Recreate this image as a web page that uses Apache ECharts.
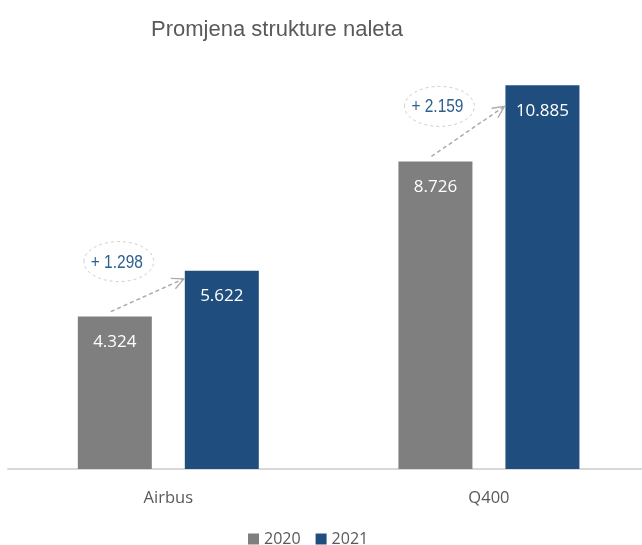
<!DOCTYPE html>
<html>
<head>
<meta charset="utf-8">
<script src="https://cdn.jsdelivr.net/npm/echarts@6/dist/echarts.min.js"></script>
<style>
  html, body { margin: 0; padding: 0; background: #fff; }
  #chart { width: 642px; height: 545px; }
</style>
</head>
<body>
<div id="chart"></div>
<script>
const categories = ['Airbus', 'Q400']
const values2020 = [4.324, 8.726]
const values2021 = [5.622, 10.885]
const diffLabels = ['+ 1.298', '+ 2.159']

const BAR_W = 74
const BAR_GAP = 33
const arrowDrop = [8, 21] // how far below the 2021 bar top the arrow ends

const fmt = v => v.toFixed(3)

const chart = echarts.init(document.getElementById('chart'))

function renderAnnot(params, api) {
  const i = api.value(0)
  const p20 = api.coord([i, api.value(1)])
  const p21 = api.coord([i, api.value(2)])
  const c20 = p20[0] - (BAR_W + BAR_GAP) / 2
  const left21 = p20[0] + BAR_GAP / 2
  const x1 = c20 - 4
  const y1 = p20[1] - 5
  const x2 = left21 - 1
  const y2 = p21[1] + arrowDrop[i]
  const ang = Math.atan2(y2 - y1, x2 - x1)
  const len = 13
  const a1 = ang + Math.PI - 0.45
  const a2 = ang + Math.PI + 0.45
  const cy = p20[1] - 55
  const cx = c20 + 4
  const dash = { stroke: '#ababab', lineWidth: 1.5, lineDash: [4, 3], fill: null }
  return {
    type: 'group',
    children: [
      { type: 'line', shape: { x1, y1, x2, y2 }, style: dash },
      {
        type: 'polyline',
        shape: { points: [
          [x2 + len * Math.cos(a1), y2 + len * Math.sin(a1)],
          [x2, y2],
          [x2 + len * Math.cos(a2), y2 + len * Math.sin(a2)]
        ] },
        style: { stroke: '#ababab', lineWidth: 1.3, fill: null }
      },
      {
        type: 'ellipse',
        shape: { cx, cy, rx: 35, ry: 20 },
        style: { stroke: '#cfcfcf', lineWidth: 1, lineDash: [3, 3], fill: '#fff' }
      },
      {
        type: 'text',
        x: cx - 2, y: cy + 1,
        scaleX: 0.86,
        style: {
          text: diffLabels[i],
          fill: '#2e5f8f',
          font: '18px "Liberation Sans", sans-serif',
          align: 'center',
          verticalAlign: 'middle'
        }
      }
    ]
  }
}

const barLabel = {
  show: true,
  position: 'insideTop',
  distance: 17,
  color: '#fff',
  fontSize: 17,
  fontFamily: '"Open Sans", sans-serif',
  formatter: p => fmt(p.value[1])
}

chart.setOption({
  animation: false,
  title: {
    text: 'Promjena strukture naleta',
    left: 146,
    top: 14,
    textStyle: {
      color: '#595959',
      fontSize: 22,
      fontWeight: 'normal',
      fontFamily: '"Liberation Sans", sans-serif'
    }
  },
  legend: {
    data: ['2020', '2021'],
    left: 243,
    top: 526,
    icon: 'rect',
    itemWidth: 11,
    itemHeight: 11,
    itemGap: 15,
    textStyle: { color: '#595959', fontSize: 16, fontFamily: '"Open Sans", sans-serif' }
  },
  grid: { left: 8, right: 0, top: 46, bottom: 76 },
  xAxis: {
    type: 'value',
    min: -0.5,
    max: 1.4774,
    splitLine: { show: false },
    axisLine: { show: true, onZero: false, lineStyle: { color: '#d9d9d9', width: 2 } },
    axisTick: { show: false },
    axisLabel: {
      customValues: [0, 1],
      formatter: v => categories[v] || '',
      color: '#595959',
      fontSize: 16.5,
      margin: 21,
      fontFamily: '"Open Sans", sans-serif'
    }
  },
  yAxis: {
    type: 'value',
    min: 0,
    max: 12,
    show: false,
    splitLine: { show: false }
  },
  series: [
    {
      name: '2020',
      type: 'bar',
      data: values2020.map((v, i) => [i, v]),
      barWidth: BAR_W,
      barGap: (BAR_GAP / BAR_W * 100) + '%',
      itemStyle: { color: '#7f7f7f' },
      label: barLabel
    },
    {
      name: '2021',
      type: 'bar',
      data: values2021.map((v, i) => [i, v]),
      barWidth: BAR_W,
      itemStyle: { color: '#1f4e7e' },
      label: barLabel
    },
    {
      type: 'custom',
      name: 'annot',
      renderItem: renderAnnot,
      clip: false,
      z: 5,
      silent: true,
      encode: { x: 0, y: 1 },
      data: categories.map((c, i) => [i, values2020[i], values2021[i]])
    }
  ]
})
</script>
</body>
</html>
